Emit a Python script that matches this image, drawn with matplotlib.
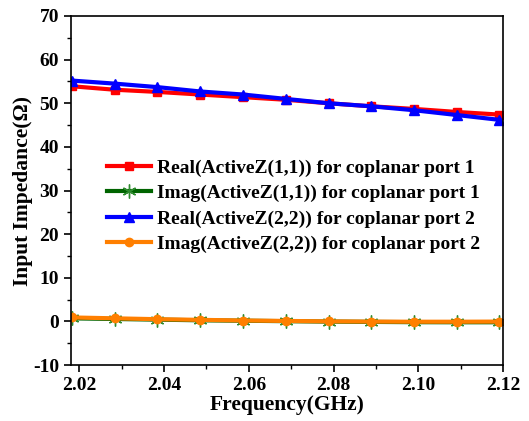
import matplotlib.pyplot as plt
from matplotlib.ticker import MultipleLocator

plt.rcParams['font.family'] = ['Liberation Serif', 'DejaVu Serif']
plt.rcParams['font.weight'] = 'bold'
plt.rcParams['axes.unicode_minus'] = False

freq = [2.0182, 2.0283, 2.0384, 2.0485, 2.0586, 2.0687, 2.0788, 2.0889, 2.0990, 2.1091, 2.1191]
re_z11 = [53.9, 53.1, 52.6, 52.0, 51.4, 50.8, 50.0, 49.3, 48.7, 48.0, 47.4]
im_z11 = [0.7, 0.55, 0.4, 0.25, 0.15, 0.05, -0.05, -0.12, -0.18, -0.2, -0.2]
re_z22 = [55.2, 54.5, 53.7, 52.7, 52.0, 51.0, 50.0, 49.3, 48.4, 47.3, 46.2]
im_z22 = [0.9, 0.7, 0.5, 0.35, 0.2, 0.1, 0.0, -0.05, -0.08, -0.08, -0.05]

labels = ["Real(ActiveZ(1,1)) for coplanar port 1",
          "Imag(ActiveZ(1,1)) for coplanar port 1",
          "Real(ActiveZ(2,2)) for coplanar port 2",
          "Imag(ActiveZ(2,2)) for coplanar port 2"]

fig = plt.figure(figsize=(5.29, 4.21), dpi=100)
ax = fig.add_axes([0.134, 0.133, 0.817, 0.829])

ax.plot(freq, re_z11, color="#ff0000", lw=3, marker="s", ms=6, label=labels[0])
ax.plot(freq, im_z11, color="#006400", lw=3, marker=(6, 2, 0), ms=10, mew=1,
        mec="#2e8b2e", label=labels[1])
ax.plot(freq, re_z22, color="#0000ff", lw=3, marker="^", ms=7, label=labels[2])
ax.plot(freq, im_z22, color="#ff7f00", lw=3, marker="o", ms=6, label=labels[3])

ax.set_xlim(2.018, 2.12)
ax.set_ylim(-10, 70)
ax.xaxis.set_major_locator(MultipleLocator(0.02))
ax.xaxis.set_minor_locator(MultipleLocator(0.01))
ax.yaxis.set_major_locator(MultipleLocator(10))
ax.yaxis.set_minor_locator(MultipleLocator(5))
ax.set_xticklabels([f"{t:.2f}" for t in ax.get_xticks()])
ax.tick_params(which="major", direction="out", length=5, width=1.2, labelsize=14)
ax.tick_params(which="minor", direction="out", length=3, width=1.0)
for s in ax.spines.values():
    s.set_linewidth(1.2)

ax.set_xlabel("Frequency(GHz)", fontsize=15.5, fontweight="bold", labelpad=1)
ax.set_ylabel("Input Impedance(Ω)", fontsize=15.5, fontweight="bold", labelpad=0)

ax.legend(loc="upper left", bbox_to_anchor=(0.083, 0.59), frameon=False,
          borderpad=0, borderaxespad=0, handlelength=2.3, labelspacing=0.4,
          handletextpad=0.3, prop={"weight": "bold", "size": 14})

fig.savefig("out.png", dpi=100)
